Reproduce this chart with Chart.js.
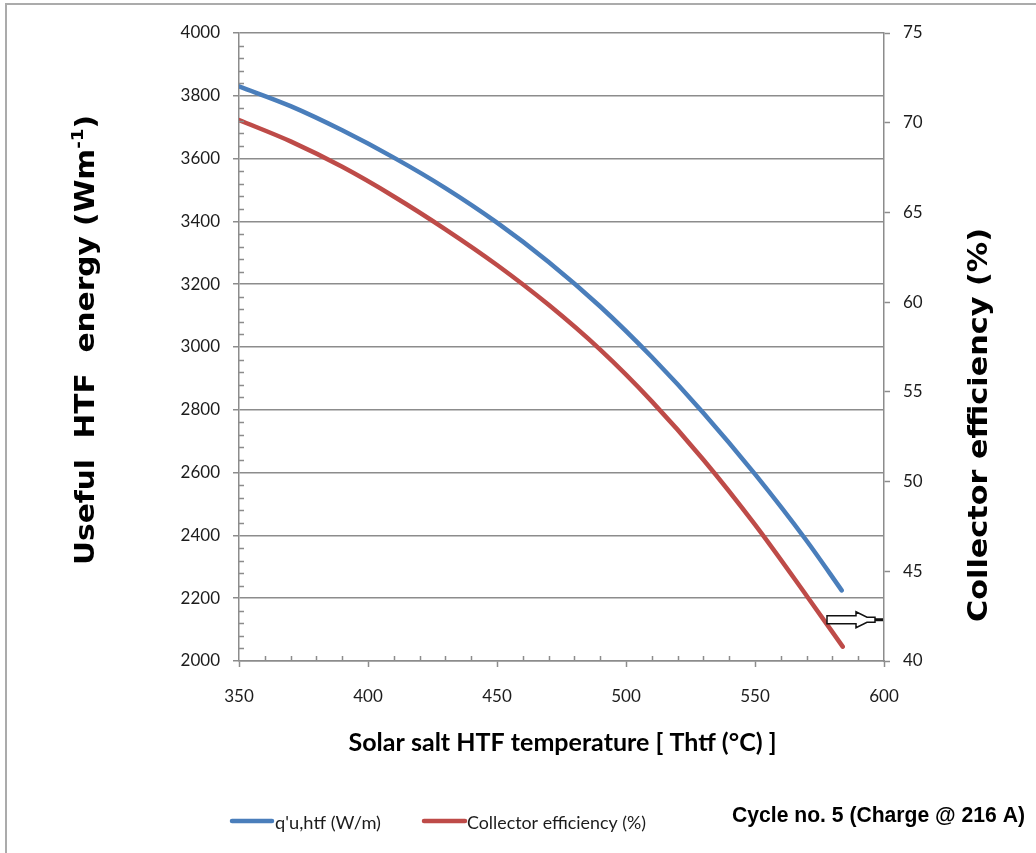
<!DOCTYPE html>
<html>
<head>
<meta charset="utf-8">
<script src="https://cdn.jsdelivr.net/npm/chart.js@4.4.0/dist/chart.umd.min.js"></script>
<style>
  html, body { margin: 0; padding: 0; background: #ffffff; }
  #wrap { width: 1036px; height: 853px; position: relative; }
</style>
</head>
<body>
<div id="wrap"><canvas id="c" width="1036" height="853"></canvas></div>
<script>
// Useful heat gain of the HTF (W/m) against salt temperature (°C)
const heatTemps = [350, 370, 390, 410, 430, 450, 470, 490, 510, 530, 550, 570, 583.6];
const heatGain  = [3830, 3767, 3690, 3603, 3506, 3396, 3271, 3129, 2968, 2790, 2595, 2383, 2225];

// Collector efficiency (%) against salt temperature (°C)
const effTemps   = [350, 370, 390, 410, 430, 450, 470, 490, 510, 530, 550, 570, 584];
const efficiency = [70.15, 68.96, 67.54, 65.89, 64.06, 62.07, 59.85, 57.35, 54.47, 51.22, 47.60, 43.64, 40.8];

// Axis ranges and tick steps
const xTicks  = { min: 350, max: 600, step: 50, minor: 10 };
const yTicks  = { min: 2000, max: 4000, step: 200, minor: 40 };
const y1Ticks = { min: 40, max: 75, step: 5 };

const seriesNames = ["q'u,htf (W/m)", "Collector efficiency (%)"];
const arrowLevel = 42.3;   // right-axis level the arrow points at

const BLUE = '#4A7EBB';
const RED = '#BE4B48';
const AXIS = '#8C8C8C';
const TEXT = '#1c1c1c';
const tickFont = { family: 'Lato', size: 17 };
const plainNumber = v => String(v);

function toPoints(xs, ys) { return xs.map((x, i) => ({ x: x, y: ys[i] })); }

// Draws text squeezed/stretched to a given width
function fitText(ctx, text, width) {
  const w = ctx.measureText(text).width;
  ctx.save();
  ctx.scale(width / w, 1);
  ctx.fillText(text, -w / 2, 0);
  ctx.restore();
}

const decor = {
  id: 'decor',
  afterDraw(chart) {
    const ctx = chart.ctx;
    const xs = chart.scales.x, ys = chart.scales.y, y1 = chart.scales.y1;
    const area = chart.chartArea;
    ctx.save();

    // outer frame
    ctx.strokeStyle = '#ababab';
    ctx.lineWidth = 2;
    ctx.beginPath();
    ctx.moveTo(6, 853); ctx.lineTo(6, 4); ctx.lineTo(1036, 4);
    ctx.stroke();

    // minor tick marks pointing into the plot
    ctx.strokeStyle = AXIS;
    ctx.lineWidth = 1.5;
    ctx.beginPath();
    for (let v = yTicks.min; v <= yTicks.max; v += yTicks.minor) {
      if (v % yTicks.step === 0) continue;
      const p = Math.round(ys.getPixelForValue(v)) + 0.5;
      ctx.moveTo(area.left, p); ctx.lineTo(area.left + 5, p);
    }
    for (let v = xTicks.min; v <= xTicks.max; v += xTicks.minor) {
      if (v % xTicks.step === 0) continue;
      const p = Math.round(xs.getPixelForValue(v)) + 0.5;
      ctx.moveTo(p, area.bottom); ctx.lineTo(p, area.bottom - 5);
    }
    ctx.stroke();

    ctx.fillStyle = '#000000';
    ctx.textBaseline = 'alphabetic';

    // left axis title with superscript
    ctx.save();
    ctx.translate(94, 340);
    ctx.rotate(-Math.PI / 2);
    const mainFont = 'bold 26px "DejaVu Sans"';
    const supFont = 'bold 16px "DejaVu Sans"';
    const parts = [['Useful  HTF  energy (Wm', mainFont, 0], ['-1', supFont, -11], [')', mainFont, 0]];
    let total = 0;
    parts.forEach(p => { ctx.font = p[1]; p.push(ctx.measureText(p[0]).width); total += p[3]; });
    const sx = 450 / total;
    ctx.scale(sx, 1);
    let cx = -total / 2;
    parts.forEach(p => { ctx.font = p[1]; ctx.fillText(p[0], cx, p[2]); cx += p[3]; });
    ctx.restore();

    // right axis title, reading upwards
    ctx.save();
    ctx.translate(987, 425);
    ctx.rotate(-Math.PI / 2);
    ctx.font = 'bold 26px "DejaVu Sans"';
    fitText(ctx, 'Collector efficiency (%)', 394);
    ctx.restore();

    // x axis title
    ctx.save();
    ctx.translate(562.5, 751);
    ctx.font = 'bold 25px Lato';
    fitText(ctx, 'Solar salt HTF temperature [ Thtf (°C) ]', 428);
    ctx.restore();

    // legend
    const legend = [
      { color: BLUE, x0: 232, x1: 272, tx: 275, tw: 106, label: seriesNames[0] },
      { color: RED, x0: 424, x1: 465, tx: 467, tw: 179, label: seriesNames[1] }
    ];
    legend.forEach(item => {
      ctx.strokeStyle = item.color;
      ctx.lineWidth = 4.5;
      ctx.lineCap = 'round';
      ctx.beginPath();
      ctx.moveTo(item.x0, 821); ctx.lineTo(item.x1, 821);
      ctx.stroke();
      ctx.save();
      ctx.fillStyle = TEXT;
      ctx.font = '18px Lato';
      ctx.translate(item.tx + item.tw / 2, 829);
      fitText(ctx, item.label, item.tw);
      ctx.restore();
    });

    // run caption
    ctx.save();
    ctx.translate(878.5, 822);
    ctx.font = 'bold 22px "Liberation Sans"';
    fitText(ctx, 'Cycle no. 5 (Charge @ 216 A)', 293);
    ctx.restore();

    // hollow arrow pointing at the efficiency axis
    const ay = y1.getPixelForValue(arrowLevel);
    const r = area.right;
    ctx.lineCap = 'butt';
    ctx.lineJoin = 'miter';
    ctx.beginPath();
    ctx.moveTo(r - 57, ay - 4);
    ctx.lineTo(r - 28, ay - 4);
    ctx.lineTo(r - 28, ay - 8);
    ctx.lineTo(r - 17, ay - 2.5);
    ctx.lineTo(r - 9, ay - 2.5);
    ctx.lineTo(r - 9, ay + 2.5);
    ctx.lineTo(r - 17, ay + 2.5);
    ctx.lineTo(r - 28, ay + 8);
    ctx.lineTo(r - 28, ay + 4);
    ctx.lineTo(r - 57, ay + 4);
    ctx.closePath();
    ctx.fillStyle = '#ffffff';
    ctx.fill();
    ctx.strokeStyle = '#111111';
    ctx.lineWidth = 1.5;
    ctx.stroke();
    ctx.fillStyle = '#111111';
    ctx.fillRect(r - 9, ay - 1.5, 8, 3);

    ctx.restore();
  }
};

new Chart(document.getElementById('c'), {
  type: 'line',
  data: {
    datasets: [
      {
        label: seriesNames[0],
        data: toPoints(heatTemps, heatGain),
        yAxisID: 'y',
        borderColor: BLUE,
        backgroundColor: BLUE
      },
      {
        label: seriesNames[1],
        data: toPoints(effTemps, efficiency),
        yAxisID: 'y1',
        borderColor: RED,
        backgroundColor: RED
      }
    ]
  },
  options: {
    responsive: false,
    animation: false,
    layout: { padding: { top: 33, left: 0, right: 0, bottom: 0 } },
    plugins: { legend: { display: false }, tooltip: { enabled: false } },
    elements: {
      point: { radius: 0 },
      line: { borderWidth: 4.5, cubicInterpolationMode: 'monotone', borderCapStyle: 'round', fill: false }
    },
    scales: {
      x: {
        type: 'linear',
        position: 'bottom',
        min: xTicks.min, max: xTicks.max,
        ticks: { stepSize: xTicks.step, padding: 19, font: tickFont, color: TEXT, callback: plainNumber },
        grid: { drawOnChartArea: false, drawTicks: true, tickLength: 6, tickColor: AXIS, tickWidth: 1.5 },
        border: { color: AXIS, width: 1.5 },
        afterFit(s) { s.height = 192; }
      },
      y: {
        type: 'linear',
        position: 'left',
        min: yTicks.min, max: yTicks.max,
        ticks: { stepSize: yTicks.step, padding: 13, font: tickFont, color: TEXT, callback: plainNumber },
        grid: { color: AXIS, lineWidth: 1.5, drawTicks: true, tickLength: 6, tickColor: AXIS, tickWidth: 1.5 },
        border: { color: AXIS, width: 1.5 },
        afterFit(s) { s.width = 239; }
      },
      y1: {
        type: 'linear',
        position: 'right',
        min: y1Ticks.min, max: y1Ticks.max,
        ticks: { stepSize: y1Ticks.step, padding: 13, font: tickFont, color: TEXT, callback: plainNumber },
        grid: { drawOnChartArea: false, drawTicks: true, tickLength: 6, tickColor: AXIS, tickWidth: 1.5 },
        border: { color: AXIS, width: 1.5 },
        afterFit(s) { s.width = 152; }
      }
    }
  },
  plugins: [decor]
});
</script>
</body>
</html>
